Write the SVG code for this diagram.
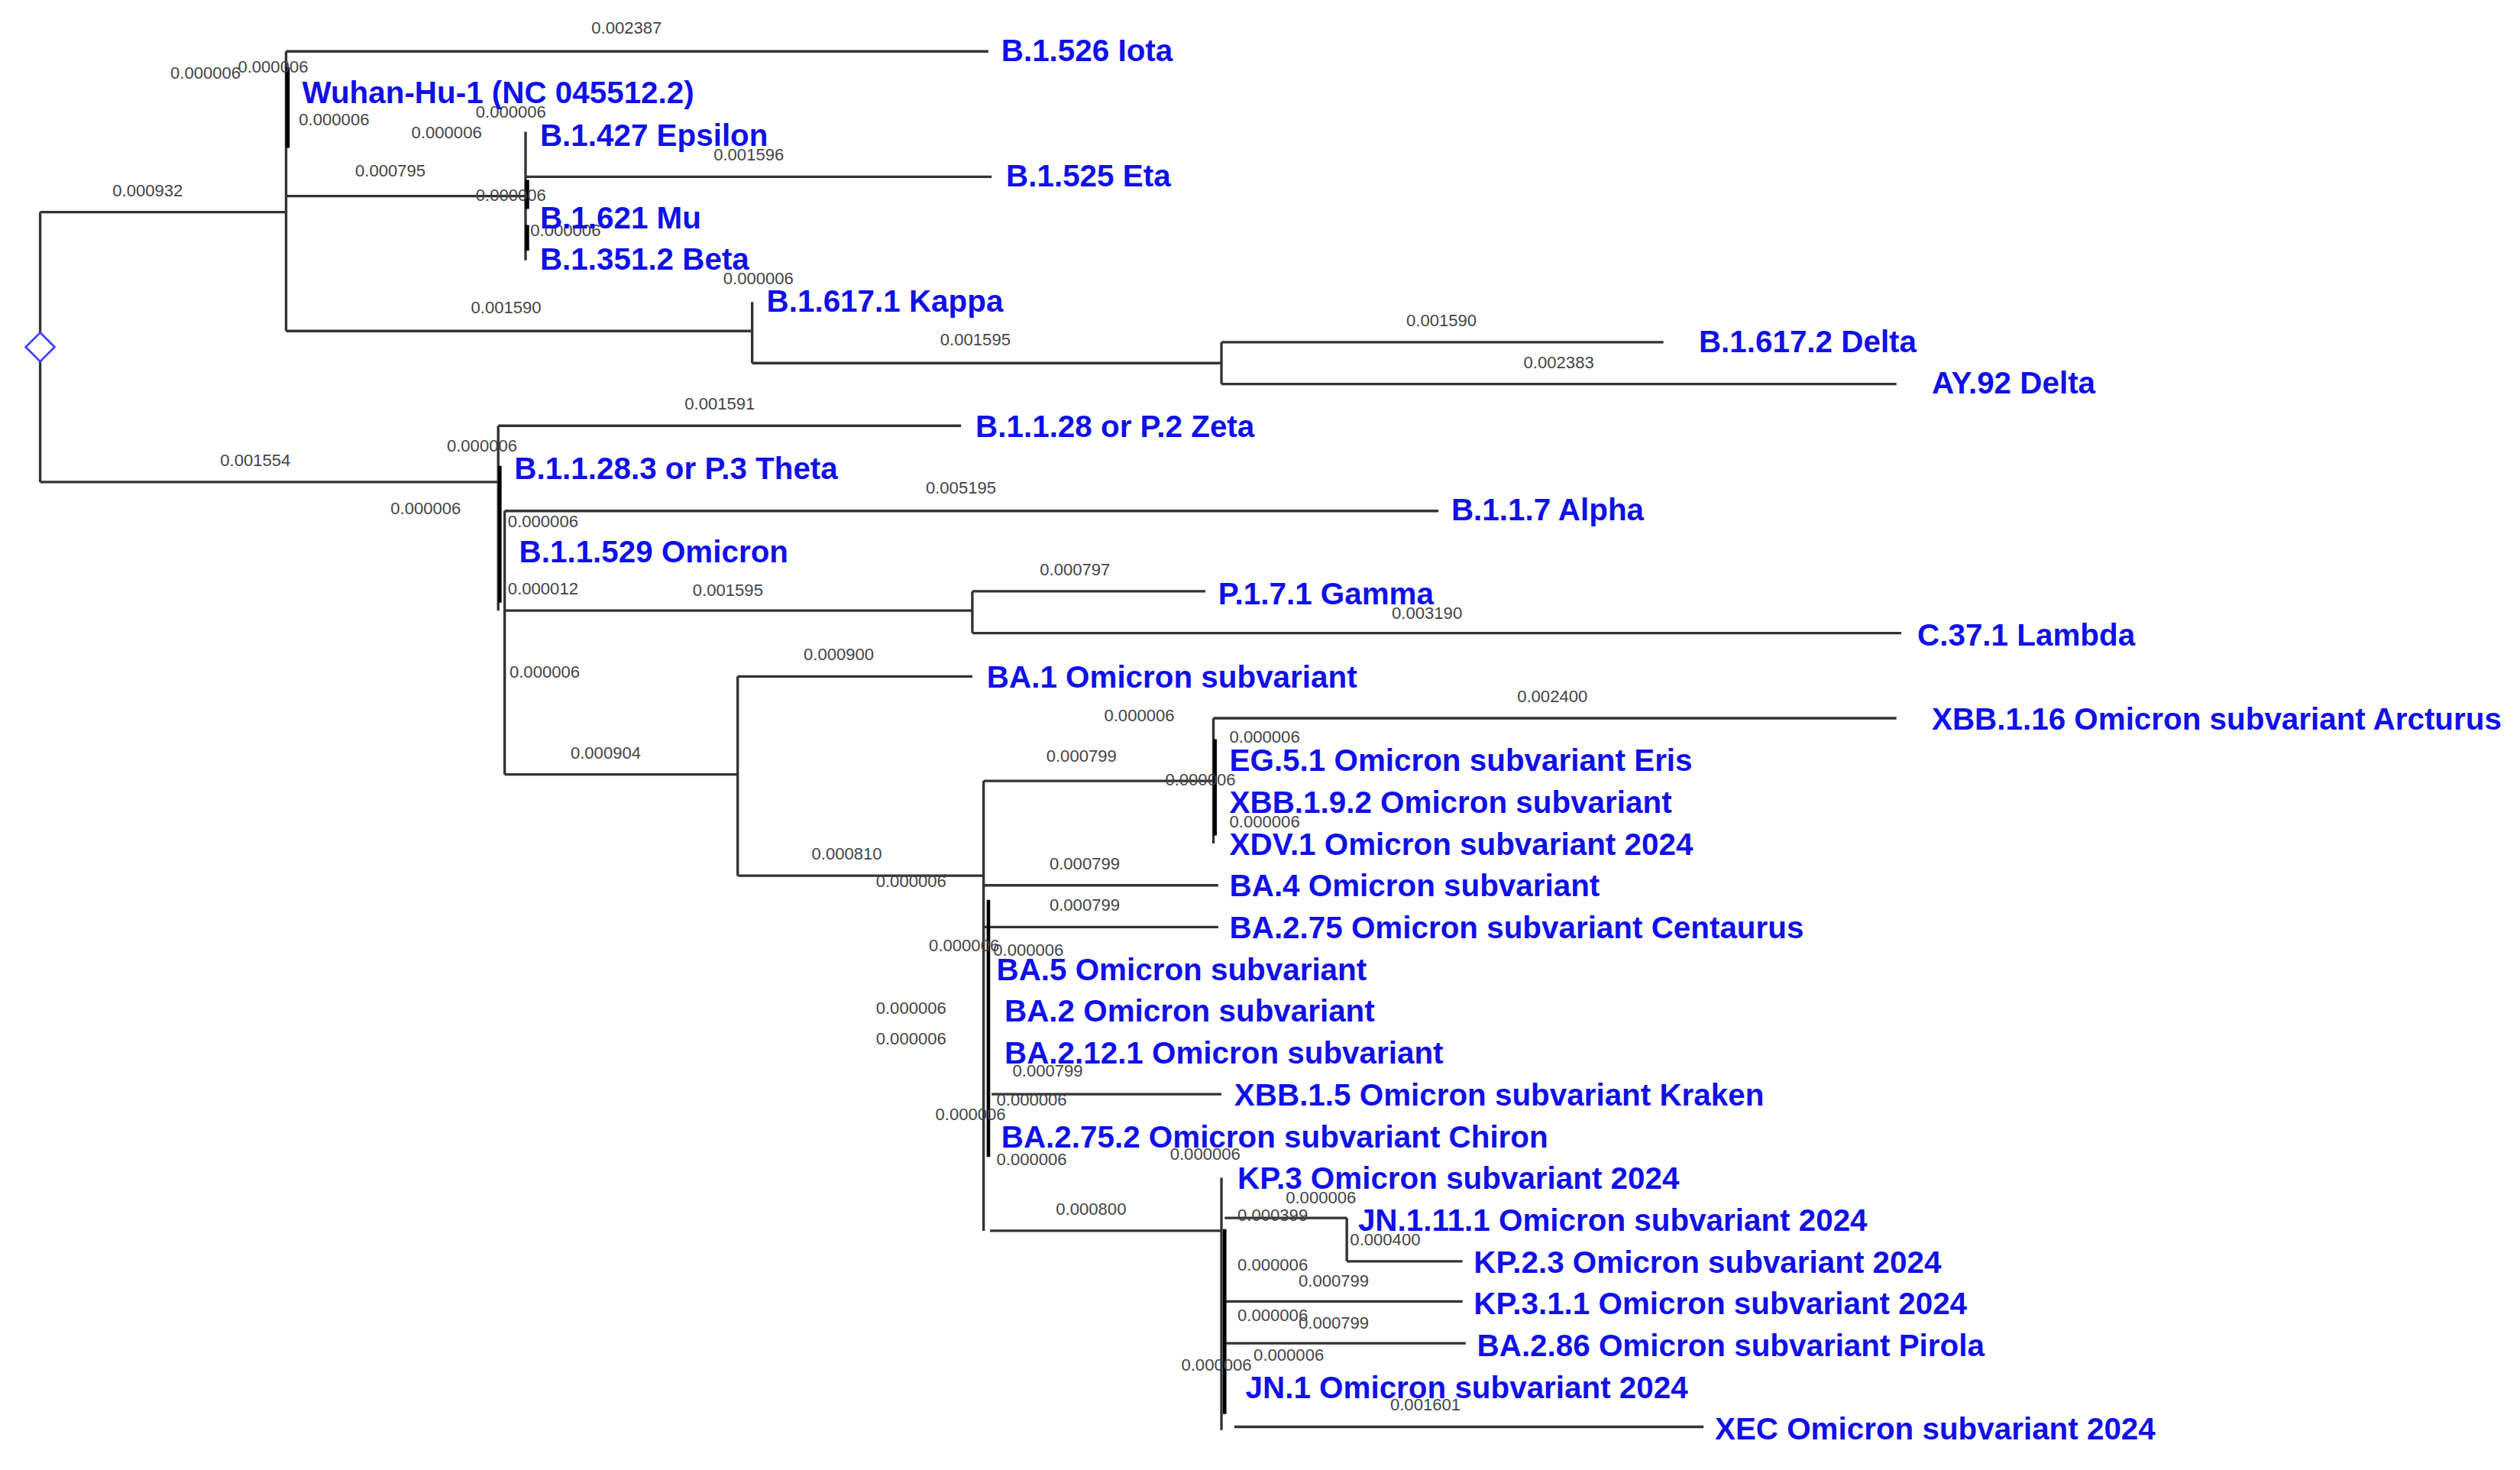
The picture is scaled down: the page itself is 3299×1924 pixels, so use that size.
<svg xmlns="http://www.w3.org/2000/svg" width="3299" height="1924" viewBox="0 0 3299 1924">
<style>
.e{stroke:#333;stroke-width:1.6;fill:none}
.t{font-family:"Liberation Sans",Arial,sans-serif;font-weight:bold;font-size:19.2px;fill:#1010e8}
.n{font-family:"Liberation Sans",Arial,sans-serif;font-size:10.5px;fill:#444}
</style>
<rect width="3299" height="1924" fill="#fff"/>
<g transform="scale(2.104,2.103)">
<g id="connectors">
<path class="e" d="M25 132V300M25 132H178M25 300H310"/>
<polygon points="25,207 34,216 25,225 16,216" fill="#fff" stroke="#4040ff" stroke-width="1.3"/>
<path class="e" d="M178 32V206M178 32H615M178 122H327M327 82V162M327 110H617M178 206H468M468 188V226M468 226H760M760 213V239M760 213H1035M760 239H1180"/>
<path d="M179 42V92M328 112V130M328 140V156" stroke="#000" stroke-width="2.5"/>
<path class="e" d="M310 265V380M310 265H598M314 318V482M314 318H895M314 380H605M605 368V394M605 368H750M605 394H1183M314 482H459M459 421V545M459 421H605M459 545H612M612 486V766M612 486H755M755 447V525M755 447H1180M612 551H758M612 577H758M617 681H760M616 766H760M760 733V890M762 758H838M838 758V785M838 785H910M762 810H910M762 836H912M768 888H1060"/>
<path d="M311 290V375M615 560V720M762 765V880M756 460V520" stroke="#000" stroke-width="2.2"/>
</g>
<g id="branch-lengths">
<text class="n" x="368" y="21">0.002387</text>
<text class="n" x="106" y="49">0.000006</text>
<text class="n" x="148" y="45">0.000006</text>
<text class="n" x="186" y="78">0.000006</text>
<text class="n" x="256" y="86">0.000006</text>
<text class="n" x="296" y="73">0.000006</text>
<text class="n" x="70" y="122">0.000932</text>
<text class="n" x="221" y="110">0.000795</text>
<text class="n" x="444" y="100">0.001596</text>
<text class="n" x="296" y="125">0.000006</text>
<text class="n" x="330" y="147">0.000006</text>
<text class="n" x="450" y="177">0.000006</text>
<text class="n" x="293" y="195">0.001590</text>
<text class="n" x="585" y="215">0.001595</text>
<text class="n" x="875" y="203">0.001590</text>
<text class="n" x="948" y="229">0.002383</text>
<text class="n" x="426" y="255">0.001591</text>
<text class="n" x="278" y="281">0.000006</text>
<text class="n" x="137" y="290">0.001554</text>
<text class="n" x="243" y="320">0.000006</text>
<text class="n" x="316" y="328">0.000006</text>
<text class="n" x="576" y="307">0.005195</text>
<text class="n" x="316" y="370">0.000012</text>
<text class="n" x="431" y="371">0.001595</text>
<text class="n" x="647" y="358">0.000797</text>
<text class="n" x="866" y="385">0.003190</text>
<text class="n" x="317" y="422">0.000006</text>
<text class="n" x="500" y="411">0.000900</text>
<text class="n" x="355" y="472">0.000904</text>
<text class="n" x="505" y="535">0.000810</text>
<text class="n" x="545" y="552">0.000006</text>
<text class="n" x="687" y="449">0.000006</text>
<text class="n" x="651" y="474">0.000799</text>
<text class="n" x="944" y="437">0.002400</text>
<text class="n" x="765" y="462">0.000006</text>
<text class="n" x="725" y="489">0.000006</text>
<text class="n" x="765" y="515">0.000006</text>
<text class="n" x="653" y="541">0.000799</text>
<text class="n" x="653" y="567">0.000799</text>
<text class="n" x="578" y="592">0.000006</text>
<text class="n" x="618" y="595">0.000006</text>
<text class="n" x="545" y="631">0.000006</text>
<text class="n" x="545" y="650">0.000006</text>
<text class="n" x="630" y="670">0.000799</text>
<text class="n" x="620" y="688">0.000006</text>
<text class="n" x="582" y="697">0.000006</text>
<text class="n" x="620" y="725">0.000006</text>
<text class="n" x="728" y="722">0.000006</text>
<text class="n" x="657" y="756">0.000800</text>
<text class="n" x="770" y="760">0.000399</text>
<text class="n" x="800" y="749">0.000006</text>
<text class="n" x="840" y="775">0.000400</text>
<text class="n" x="770" y="791">0.000006</text>
<text class="n" x="808" y="801">0.000799</text>
<text class="n" x="770" y="822">0.000006</text>
<text class="n" x="808" y="827">0.000799</text>
<text class="n" x="735" y="853">0.000006</text>
<text class="n" x="780" y="847">0.000006</text>
<text class="n" x="865" y="878">0.001601</text>
</g>
<g id="labels">
<g id="n-iota"><text class="t" x="623" y="38">B.1.526 Iota</text></g>
<g id="n-wuhan"><text class="t" x="188" y="64">Wuhan-Hu-1 (NC 045512.2)</text></g>
<g id="n-epsilon"><text class="t" x="336" y="91">B.1.427 Epsilon</text></g>
<g id="n-eta"><text class="t" x="626" y="116">B.1.525 Eta</text></g>
<g id="n-mu"><text class="t" x="336" y="142">B.1.621 Mu</text></g>
<g id="n-beta"><text class="t" x="336" y="168">B.1.351.2 Beta</text></g>
<g id="n-kappa"><text class="t" x="477" y="194">B.1.617.1 Kappa</text></g>
<g id="n-delta"><text class="t" x="1057" y="219">B.1.617.2 Delta</text></g>
<g id="n-ay92"><text class="t" x="1202" y="245">AY.92 Delta</text></g>
<g id="n-zeta"><text class="t" x="607" y="272">B.1.1.28 or P.2 Zeta</text></g>
<g id="n-theta"><text class="t" x="320" y="298">B.1.1.28.3 or P.3 Theta</text></g>
<g id="n-alpha"><text class="t" x="903" y="324">B.1.1.7 Alpha</text></g>
<g id="n-omicron"><text class="t" x="323" y="350">B.1.1.529 Omicron</text></g>
<g id="n-gamma"><text class="t" x="758" y="376">P.1.7.1 Gamma</text></g>
<g id="n-lambda"><text class="t" x="1193" y="402">C.37.1 Lambda</text></g>
<g id="n-ba1"><text class="t" x="614" y="428">BA.1 Omicron subvariant</text></g>
<g id="n-xbb116"><text class="t" x="1202" y="454">XBB.1.16 Omicron subvariant Arcturus</text></g>
<g id="n-eg51"><text class="t" x="765" y="480">EG.5.1 Omicron subvariant Eris</text></g>
<g id="n-xbb192"><text class="t" x="765" y="506">XBB.1.9.2 Omicron subvariant</text></g>
<g id="n-xdv1"><text class="t" x="765" y="532">XDV.1 Omicron subvariant 2024</text></g>
<g id="n-ba4"><text class="t" x="765" y="558">BA.4 Omicron subvariant</text></g>
<g id="n-ba275"><text class="t" x="765" y="584">BA.2.75 Omicron subvariant Centaurus</text></g>
<g id="n-ba5"><text class="t" x="620" y="610">BA.5 Omicron subvariant</text></g>
<g id="n-ba2"><text class="t" x="625" y="636">BA.2 Omicron subvariant</text></g>
<g id="n-ba2121"><text class="t" x="625" y="662">BA.2.12.1 Omicron subvariant</text></g>
<g id="n-xbb15"><text class="t" x="768" y="688">XBB.1.5 Omicron subvariant Kraken</text></g>
<g id="n-ba2752"><text class="t" x="623" y="714">BA.2.75.2 Omicron subvariant Chiron</text></g>
<g id="n-kp3"><text class="t" x="770" y="740">KP.3 Omicron subvariant 2024</text></g>
<g id="n-jn1111"><text class="t" x="845" y="766">JN.1.11.1 Omicron subvariant 2024</text></g>
<g id="n-kp23"><text class="t" x="917" y="792">KP.2.3 Omicron subvariant 2024</text></g>
<g id="n-kp311"><text class="t" x="917" y="818">KP.3.1.1 Omicron subvariant 2024</text></g>
<g id="n-ba286"><text class="t" x="919" y="844">BA.2.86 Omicron subvariant Pirola</text></g>
<g id="n-jn1"><text class="t" x="775" y="870">JN.1 Omicron subvariant 2024</text></g>
<g id="n-xec"><text class="t" x="1067" y="896">XEC Omicron subvariant 2024</text></g>
</g>
</g>
</svg>
